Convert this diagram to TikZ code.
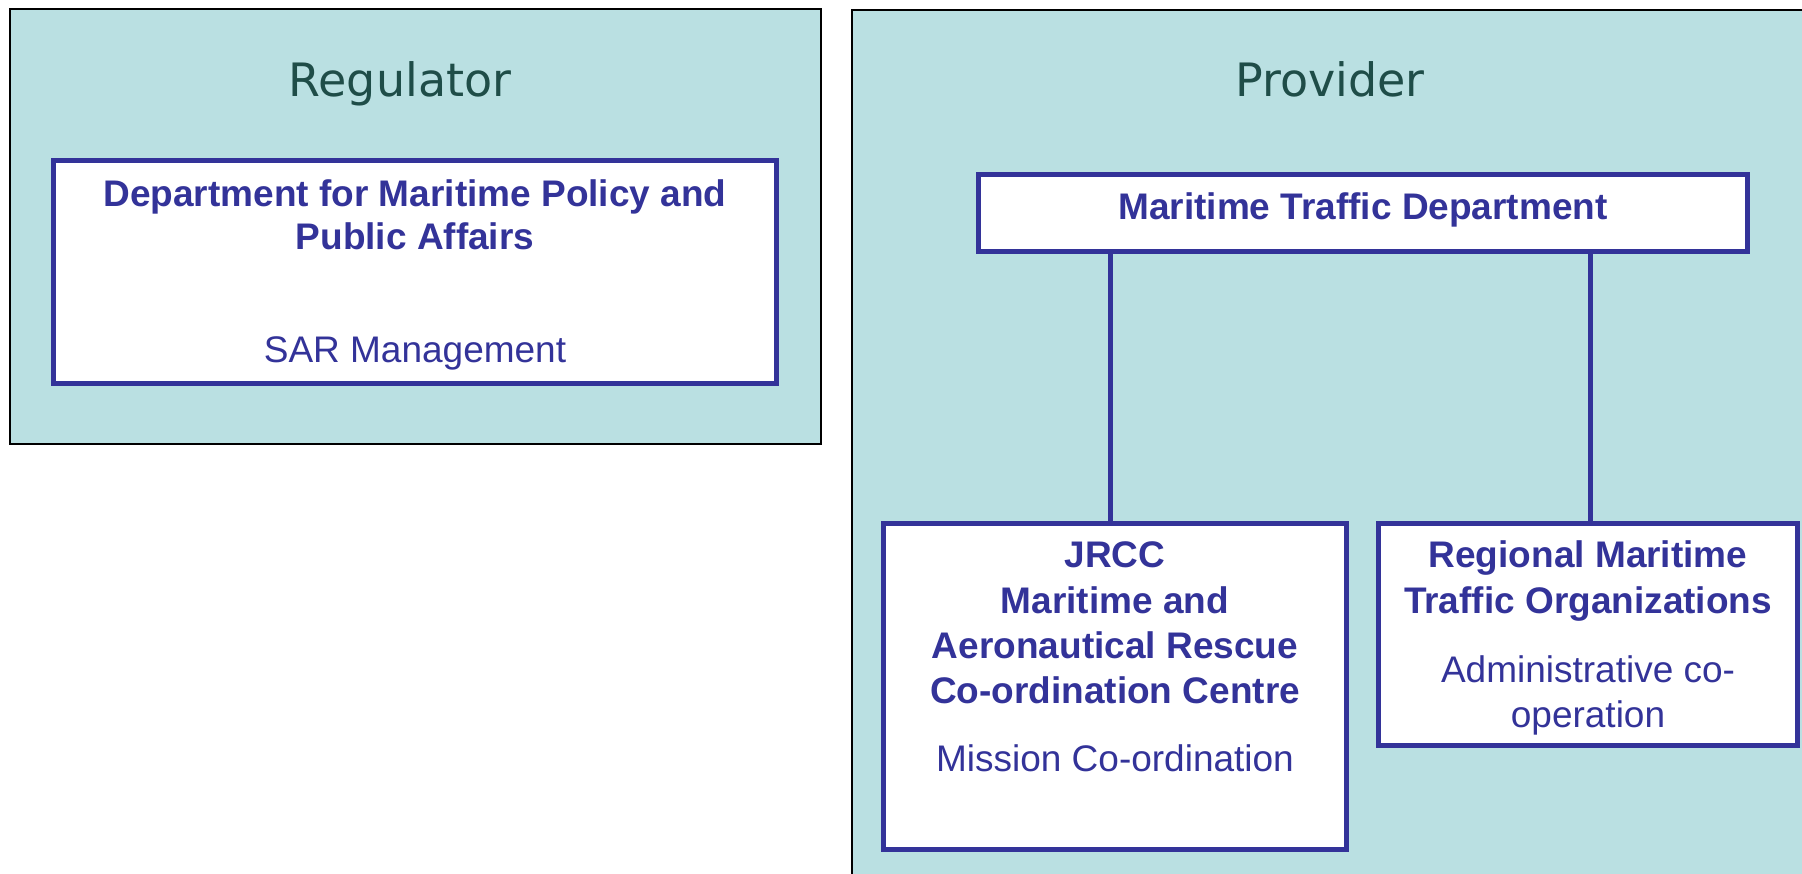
\documentclass[tikz,border=0pt]{standalone}
\usepackage{fontspec}
\setmainfont{Liberation Sans}
\newfontfamily\titlefont{DejaVu Sans}
\definecolor{bgc}{RGB}{186,224,226}
\definecolor{navy}{RGB}{51,51,153}
\definecolor{titlec}{RGB}{31,77,72}
\tikzset{
  panel/.style={draw=black, fill=bgc, line width=2pt, rectangle, inner sep=0pt, outer sep=0pt},
  orgbox/.style={draw=navy, fill=white, line width=5.5pt, rectangle, inner sep=0pt, outer sep=0pt},
  title/.style={anchor=base, text=titlec, inner sep=0pt, font=\titlefont\fontsize{46}{55}\selectfont},
  boldline/.style={anchor=base, text=navy, inner sep=0pt, font=\fontsize{37}{45}\selectfont\bfseries},
  plainline/.style={anchor=base, text=navy, inner sep=0pt, font=\fontsize{37}{45}\selectfont},
  link/.style={draw=navy, line width=5pt}
}
\begin{document}
\begin{tikzpicture}[x=1pt,y=-1pt]
\useasboundingbox (0,0) rectangle (1802,874);
\clip (0,0) rectangle (1802,874);
\fill[white] (0,0) rectangle (1802,874);
% panels
\node[panel, minimum width=811, minimum height=435] (regp) at (415.5,226.5) {};
\node[panel, minimum width=1000, minimum height=950, anchor=north west] (prov) at (852,10) {};
\node[title] (regt) at (400,97) {Regulator};
\node[title] (provt) at (1330,97) {Provider};
% boxes
\node[orgbox, minimum width=723, minimum height=223] (dept) at (415,272) {};
\node[orgbox, minimum width=769, minimum height=77] (mtd) at (1363,213) {};
\node[orgbox, minimum width=463, minimum height=326] (jrcc) at (1115,686.5) {};
\node[orgbox, minimum width=419, minimum height=222] (rmto) at (1588,634.5) {};
% connectors
\draw[link] ([xshift=-5pt]jrcc.north |- mtd.south) -- ([xshift=-5pt]jrcc.north);
\draw[link] ([xshift=2pt]rmto.north |- mtd.south) -- ([xshift=2pt]rmto.north);
% texts
\node[boldline] (d1) at (415,207) {Department for Maritime Policy and};
\node[boldline] (d2) at (415,250) {Public Affairs};
\node[plainline] (d3) at (415,363) {SAR Management};
\node[boldline] (m1) at (1363,220) {Maritime Traffic Department};
\node[boldline] (j1) at (1115,567) {JRCC};
\node[boldline] (j2) at (1115,613) {Maritime and};
\node[boldline] (j3) at (1115,658) {Aeronautical Rescue};
\node[boldline] (j4) at (1115,703) {Co-ordination Centre};
\node[plainline] (j5) at (1115,771) {Mission Co-ordination};
\node[boldline] (r1) at (1588,567) {Regional Maritime};
\node[boldline] (r2) at (1588,613) {Traffic Organizations};
\node[plainline] (r3) at (1588,682) {Administrative co-};
\node[plainline] (r4) at (1588,727) {operation};
\end{tikzpicture}
\end{document}
